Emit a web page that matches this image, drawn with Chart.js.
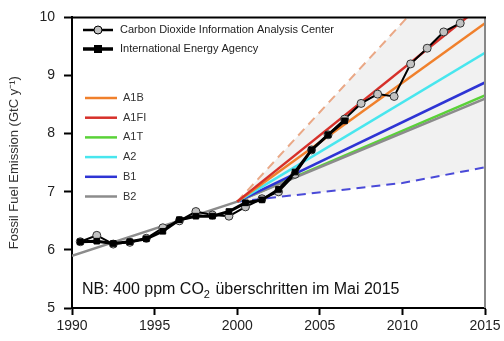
<!DOCTYPE html>
<html>
<head>
<meta charset="utf-8">
<script src="https://cdn.jsdelivr.net/npm/chart.js@4"></script>
<style>
  html, body { margin: 0; padding: 0; background: #fff; }
  #wrap { width: 504px; height: 341px; }
</style>
</head>
<body>
<div id="wrap"><canvas id="myChart" width="504" height="341"></canvas></div>
<script>
"use strict";

// observed emissions, plotted at mid-year
const cdiacYears = [1990.5, 1991.5, 1992.5, 1993.5, 1994.5, 1995.5, 1996.5, 1997.5, 1998.5, 1999.5, 2000.5, 2001.5, 2002.5, 2003.5, 2004.5, 2005.5, 2006.5, 2007.5, 2008.5, 2009.5, 2010.5, 2011.5, 2012.5, 2013.5];
const cdiacValues = [6.14, 6.25, 6.1, 6.13, 6.2, 6.38, 6.5, 6.66, 6.6, 6.58, 6.74, 6.88, 7.0, 7.3, 7.72, 7.98, 8.25, 8.52, 8.68, 8.64, 9.2, 9.47, 9.75, 9.9];
const ieaYears = [1990.5, 1991.5, 1992.5, 1993.5, 1994.5, 1995.5, 1996.5, 1997.5, 1998.5, 1999.5, 2000.5, 2001.5, 2002.5, 2003.5, 2004.5, 2005.5, 2006.5];
const ieaValues = [6.14, 6.15, 6.11, 6.14, 6.19, 6.32, 6.52, 6.58, 6.58, 6.66, 6.81, 6.86, 7.04, 7.34, 7.72, 7.98, 8.22];

// SRES scenarios
const scenarioNames = ["A1B", "A1FI", "A1T", "A2", "B1", "B2"];
const scenarioColors = ["#f0802c", "#d6302a", "#5ad238", "#48e6ee", "#2e34d4", "#8c8c8c"];
const scenarioYears = [
  [2000, 2015],
  [2000, 2015],
  [2000, 2015],
  [2000, 2015],
  [2000, 2015],
  [1990, 2000, 2015]
];
const scenarioValues = [
  [6.83, 9.9],
  [6.83, 10.25],
  [6.83, 8.66],
  [6.83, 9.39],
  [6.83, 8.88],
  [5.9, 6.83, 8.6]
];
// lower number = drawn on top
const scenarioOrder = [3, 2, 7, 4, 5, 6];

// envelope of the scenarios (dashed)
const upperYears = [2000, 2010, 2015];
const upperValues = [6.83, 9.91, 11.45];
const lowerYears = [2000, 2010, 2015];
const lowerValues = [6.83, 7.15, 7.42];

const xTicks = [1990, 1995, 2000, 2005, 2010, 2015];
const yTicks = [5, 6, 7, 8, 9, 10];

const FONT = "'Liberation Sans', Arial, sans-serif";

const pts = (xs, ys) => xs.map((x, i) => ({ x: x, y: ys[i] }));

const datasets = [];

datasets.push({
  label: "Carbon Dioxide Information Analysis Center",
  data: pts(cdiacYears, cdiacValues),
  borderColor: "#000",
  borderWidth: 2,
  pointStyle: "circle",
  pointRadius: 4,
  pointBackgroundColor: "#c2c2c2",
  pointBorderColor: "#333",
  pointBorderWidth: 1,
  order: 1
});
datasets.push({
  label: "International Energy Agency",
  data: pts(ieaYears, ieaValues),
  borderColor: "#000",
  borderWidth: 3,
  pointStyle: "rect",
  pointRadius: 4,
  pointBackgroundColor: "#000",
  pointBorderColor: "#000",
  pointBorderWidth: 1,
  order: 0
});

scenarioNames.forEach((name, i) => {
  datasets.push({
    label: name,
    data: pts(scenarioYears[i], scenarioValues[i]),
    borderColor: scenarioColors[i],
    borderWidth: 2.5,
    pointRadius: 0,
    order: scenarioOrder[i]
  });
});

datasets.push({
  label: "upper",
  data: pts(upperYears, upperValues),
  borderColor: "#eaa886",
  borderWidth: 2,
  borderDash: [9, 6],
  pointRadius: 0,
  backgroundColor: "#f1f1f1",
  fill: { target: datasets.length + 1 },
  order: 20
});
datasets.push({
  label: "lower",
  data: pts(lowerYears, lowerValues),
  borderColor: "#4a4ad8",
  borderWidth: 2,
  borderDash: [9, 6],
  pointRadius: 0,
  order: 19
});

const frame = {
  id: "frame",
  afterDatasetsDraw(chart) {
    const { ctx, chartArea: a } = chart;
    ctx.save();
    ctx.lineWidth = 2;
    ctx.strokeStyle = "#888";
    ctx.beginPath();
    ctx.moveTo(a.right, a.top);
    ctx.lineTo(a.right, a.bottom);
    ctx.stroke();
    ctx.strokeStyle = "#000";
    ctx.beginPath();
    ctx.moveTo(a.left, a.top);
    ctx.lineTo(a.right + 1, a.top);
    ctx.stroke();
    ctx.restore();
  }
};

const legendAndNote = {
  id: "legendAndNote",
  afterDraw(chart) {
    const ctx = chart.ctx;
    ctx.save();
    ctx.textBaseline = "middle";
    ctx.textAlign = "left";
    ctx.font = "11px " + FONT;

    // observation legend
    const obs = [datasets[0], datasets[1]];
    obs.forEach((d, i) => {
      const y = 30 + i * 19;
      ctx.strokeStyle = "#000";
      ctx.lineWidth = d.borderWidth + 0.5;
      ctx.beginPath();
      ctx.moveTo(83, y);
      ctx.lineTo(113, y);
      ctx.stroke();
      ctx.fillStyle = d.pointBackgroundColor;
      ctx.lineWidth = 1;
      if (d.pointStyle === "circle") {
        ctx.beginPath();
        ctx.arc(98, y, 4, 0, Math.PI * 2);
        ctx.fill();
        ctx.stroke();
      } else {
        ctx.fillRect(94, y - 4, 8, 8);
      }
      ctx.fillStyle = "#222";
      ctx.fillText(d.label, 120, y);
    });

    // scenario legend
    scenarioNames.forEach((name, i) => {
      const y = 98 + i * 19.7;
      ctx.strokeStyle = scenarioColors[i];
      ctx.lineWidth = 2.5;
      ctx.beginPath();
      ctx.moveTo(85, y);
      ctx.lineTo(117, y);
      ctx.stroke();
      ctx.fillStyle = "#333";
      ctx.fillText(name, 123, y);
    });

    // note with subscript
    ctx.textBaseline = "alphabetic";
    ctx.fillStyle = "#111";
    ctx.font = "16px " + FONT;
    let x = 82;
    const base = 294;
    const p1 = "NB: 400 ppm CO";
    ctx.fillText(p1, x, base);
    x += ctx.measureText(p1).width;
    ctx.font = "11px " + FONT;
    ctx.fillText("2", x, base + 4);
    x += ctx.measureText("2").width + 1;
    ctx.font = "16px " + FONT;
    ctx.fillText(" überschritten im Mai 2015", x, base);
    ctx.restore();
  }
};

new Chart(document.getElementById("myChart"), {
  type: "line",
  data: { datasets: datasets },
  options: {
    responsive: false,
    animation: false,
    events: [],
    layout: { padding: { left: 0, right: 19, top: 13, bottom: 0 } },
    elements: { line: { tension: 0 } },
    plugins: {
      legend: { display: false },
      tooltip: { enabled: false },
      filler: { propagate: false }
    },
    scales: {
      x: {
        type: "linear",
        min: xTicks[0],
        max: xTicks[xTicks.length - 1],
        afterBuildTicks: (s) => { s.ticks = xTicks.map((v) => ({ value: v })); },
        afterFit: (s) => { s.height = 33; },
        ticks: {
          color: "#222",
          font: { family: FONT, size: 14 },
          padding: 3,
          maxRotation: 0,
          callback: (v) => String(v)
        },
        grid: { drawOnChartArea: false, drawTicks: true, tickLength: 7, tickWidth: 2, tickColor: "#000" },
        border: { display: true, color: "#000", width: 2 }
      },
      y: {
        min: yTicks[0],
        max: yTicks[yTicks.length - 1],
        afterBuildTicks: (s) => { s.ticks = yTicks.map((v) => ({ value: v })); },
        afterFit: (s) => { s.width = 72; },
        ticks: {
          color: "#222",
          font: { family: FONT, size: 14 },
          padding: 9
        },
        grid: { drawOnChartArea: false, drawTicks: true, tickLength: 8, tickWidth: 2, tickColor: "#000" },
        border: { display: true, color: "#000", width: 2 },
        title: {
          display: true,
          text: "Fossil Fuel Emission (GtC y\u207B\u00B9)",
          color: "#333",
          font: { family: FONT, size: 13 },
          padding: { top: 7, bottom: 0 }
        }
      }
    }
  },
  plugins: [frame, legendAndNote]
});
</script>
</body>
</html>
